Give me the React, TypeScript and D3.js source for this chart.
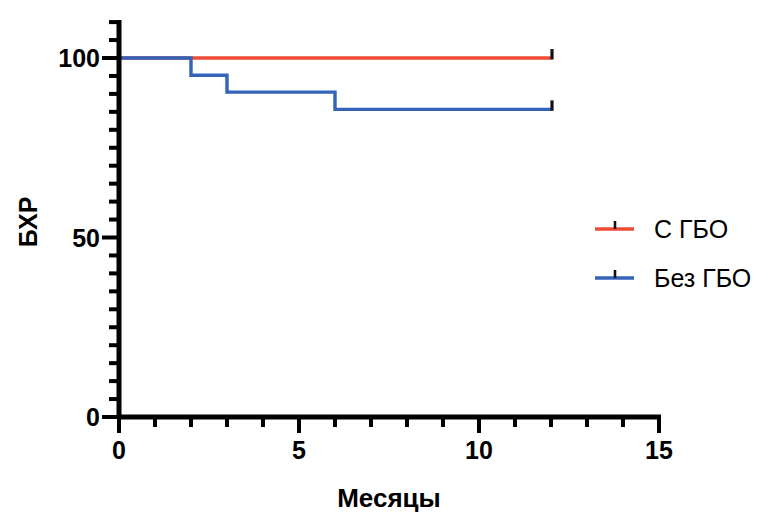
import React from 'react';
import * as d3 from 'd3';

const seriesNames = ['С ГБО', 'Без ГБО'];
const seriesColors = ['#ee4a35', '#3563b8'];
// step points: [month, survival %]
const withHbo: [number, number][] = [[0, 100], [12, 100]];
const withoutHbo: [number, number][] = [[0, 100], [2, 95.2], [3, 90.5], [6, 85.7], [12, 85.7]];
const censorMonths = [12, 12];
const xTicks = [0, 5, 10, 15];
const yTicks = [0, 50, 100];

const W = 777;
const H = 521;
const FONT = '"Liberation Sans", Arial, Helvetica, sans-serif';

export default function App() {
  const x = d3.scaleLinear().domain([0, 15]).range([119, 659]);
  const y = d3.scaleLinear().domain([0, 100]).range([417, 58]);
  const series = [withHbo, withoutHbo];

  const line = d3
    .line<[number, number]>()
    .x((d) => x(d[0]))
    .y((d) => y(d[1]))
    .curve(d3.curveStepAfter);

  const xMinor = d3.range(0, 16, 1);
  const yMinor = d3.range(0, 111, 5);

  return (
    <svg
      width={W}
      height={H}
      style={{ position: 'absolute', left: 0, top: 0, background: '#fff' }}
      fontFamily={FONT}
    >
      {/* data lines */}
      {series.map((s, i) => (
        <g key={i}>
          <path d={line(s) ?? ''} fill="none" stroke={seriesColors[i]} strokeWidth={3.4} />
          <line
            x1={x(censorMonths[i]) + 1}
            x2={x(censorMonths[i]) + 1}
            y1={y(s[s.length - 1][1]) + 1.5}
            y2={y(s[s.length - 1][1]) - 9}
            stroke="#111"
            strokeWidth={3.2}
          />
        </g>
      ))}

      {/* y axis */}
      <line x1={x(0)} x2={x(0)} y1={y(110) - 2} y2={y(0) + 2} stroke="#000" strokeWidth={5} />
      {yMinor.map((v) => {
        const major = yTicks.includes(v);
        return (
          <line
            key={`ym${v}`}
            x1={x(0)}
            x2={x(0) - (major ? 17 : 10)}
            y1={y(v)}
            y2={y(v)}
            stroke="#000"
            strokeWidth={4}
          />
        );
      })}
      {yTicks.map((v) => (
        <text
          key={`yt${v}`}
          x={100}
          y={y(v)}
          dy="0.36em"
          textAnchor="end"
          fontSize={25}
          fontWeight="bold"
        >
          {v}
        </text>
      ))}

      {/* x axis */}
      <line x1={x(0) - 2} x2={x(15) + 2} y1={y(0)} y2={y(0)} stroke="#000" strokeWidth={5} />
      {xMinor.map((v) => {
        const major = xTicks.includes(v);
        return (
          <line
            key={`xm${v}`}
            x1={x(v)}
            x2={x(v)}
            y1={y(0)}
            y2={y(0) + (major ? 16 : 10)}
            stroke="#000"
            strokeWidth={4}
          />
        );
      })}
      {xTicks.map((v) => (
        <text
          key={`xt${v}`}
          x={x(v)}
          y={459}
          textAnchor="middle"
          fontSize={25}
          fontWeight="bold"
        >
          {v}
        </text>
      ))}

      {/* axis titles */}
      <text x={389} y={507} textAnchor="middle" fontSize={26} fontWeight="bold">
        Месяцы
      </text>
      <text
        transform="translate(37,222) rotate(-90)"
        textAnchor="middle"
        fontSize={25}
        fontWeight="bold"
      >
        БХР
      </text>

      {/* legend */}
      {seriesNames.map((name, i) => {
        const ly = 229 + i * 49;
        return (
          <g key={name}>
            <line x1={595} x2={634} y1={ly} y2={ly} stroke={seriesColors[i]} strokeWidth={3.4} />
            <line x1={615} x2={615} y1={ly} y2={ly - 8} stroke="#111" strokeWidth={2.6} />
            <text x={654} y={ly} dy="0.36em" fontSize={25}>
              {name}
            </text>
          </g>
        );
      })}
    </svg>
  );
}
